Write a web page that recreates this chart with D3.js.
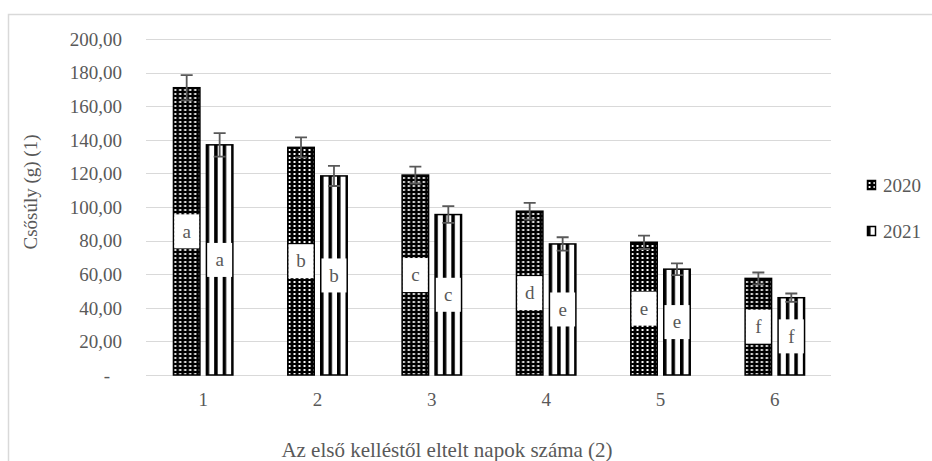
<!DOCTYPE html>
<html>
<head>
<meta charset="utf-8">
<script src="https://cdn.jsdelivr.net/npm/d3@7"></script>
<style>
  body { margin: 0; background: #fff; }
</style>
</head>
<body>
<div id="chart"></div>
<script>
// --- Data ---
const categories = ['1', '2', '3', '4', '5', '6'];
const series = ['2020', '2021'];
const values2020 = [171, 135.5, 119, 97.5, 79, 57.5];
const values2021 = [137, 118.5, 95.5, 78, 63, 46];
const errors2020 = [7.5, 6, 5, 5, 4, 3.5];
const errors2021 = [7, 6, 5, 4, 3.5, 2.5];
const letters2020 = ['a', 'b', 'c', 'd', 'e', 'f'];
const letters2021 = ['a', 'b', 'c', 'e', 'e', 'f'];
const yTicks = [0, 20, 40, 60, 80, 100, 120, 140, 160, 180, 200];

const FONT = '"Liberation Serif", "DejaVu Serif", serif';
const TEXT = '#595959';
const width = 932, height = 461;
const svg = d3.select('#chart').append('svg').attr('width', width).attr('height', height);

// chart border (runs off the right and bottom edges)
svg.append('rect')
    .attr('x', 8.5).attr('y', 14.5).attr('width', width + 10).attr('height', height + 10)
    .attr('fill', 'none').attr('stroke', '#d9d9d9').attr('stroke-width', 1.5);

// --- Patterns ---
const defs = svg.append('defs');
const dots = defs.append('pattern').attr('id', 'p2020')
    .attr('patternUnits', 'userSpaceOnUse').attr('width', 5).attr('height', 4);
dots.append('rect').attr('width', 5).attr('height', 4).attr('fill', '#000');
dots.append('rect').attr('x', 1.5).attr('y', 1).attr('width', 2).attr('height', 2).attr('fill', '#fff');

const stripes = defs.append('pattern').attr('id', 'p2021')
    .attr('patternUnits', 'userSpaceOnUse').attr('width', 8.5).attr('height', 4);
stripes.append('rect').attr('width', 8.5).attr('height', 4).attr('fill', '#fff');
stripes.append('rect').attr('width', 3.5).attr('height', 4).attr('fill', '#000');

// --- Scales ---
const x = d3.scaleBand().domain(categories).range([146, 832]);
const xSub = d3.scaleBand().domain(series).range([0, x.bandwidth()])
    .paddingInner(0.1515).paddingOuter(0.81);
const y = d3.scaleLinear().domain([0, 200]).range([375, 39]);

const locale = d3.formatLocale({ decimal: ',', thousands: ' ', grouping: [3], currency: ['', ''] });
const fmt = locale.format('.2f');

// --- Gridlines & axes ---
svg.append('g').selectAll('line').data(yTicks).join('line')
    .attr('x1', 146).attr('x2', 831)
    .attr('y1', d => Math.round(y(d)) + 0.5).attr('y2', d => Math.round(y(d)) + 0.5)
    .attr('stroke', '#d9d9d9').attr('stroke-width', 1.2);

const yAxis = svg.append('g').attr('transform', 'translate(122,0)')
    .call(d3.axisLeft(y).tickValues(yTicks).tickSize(0).tickPadding(0)
        .tickFormat(d => d === 0 ? '-' : fmt(d)));
yAxis.select('.domain').remove();
yAxis.selectAll('.tick').filter(d => d === 0).select('text').attr('x', -12);

const xAxis = svg.append('g').attr('transform', 'translate(0,375)')
    .call(d3.axisBottom(x).tickSize(0).tickPadding(18));
xAxis.select('.domain').remove();

[yAxis, xAxis].forEach(a => a.attr('font-family', null).attr('font-size', null)
    .selectAll('text').style('font-family', FONT).style('font-size', '19px').attr('fill', TEXT));
yAxis.selectAll('text').attr('dy', '0.33em');

svg.append('text').attr('x', 447).attr('y', 457).attr('text-anchor', 'middle')
    .style('font-family', FONT).style('font-size', '21px').attr('fill', TEXT)
    .text('Az első kelléstől eltelt napok száma (2)');
svg.append('text').attr('transform', 'translate(37,192) rotate(-90)').attr('text-anchor', 'middle')
    .style('font-family', FONT).style('font-size', '19px').attr('fill', TEXT)
    .text('Csősúly (g) (1)');

// --- Bars ---
const rows = categories.map((c, i) => [
    { cat: c, s: '2020', v: values2020[i], e: errors2020[i], l: letters2020[i] },
    { cat: c, s: '2021', v: values2021[i], e: errors2021[i], l: letters2021[i] }
]).flat();

const bar = svg.append('g').selectAll('g').data(rows).join('g')
    .attr('transform', d => `translate(${x(d.cat) + xSub(d.s)},0)`);

bar.append('rect')
    .attr('x', 0.75).attr('width', xSub.bandwidth() - 1.5)
    .attr('y', d => y(d.v)).attr('height', d => y(0) - y(d.v))
    .attr('fill', d => `url(#p${d.s})`).attr('stroke', '#000').attr('stroke-width', 1.5);

// letter labels in white boxes at bar mid-height
bar.append('rect')
    .attr('x', 1.5).attr('width', xSub.bandwidth() - 3)
    .attr('y', d => y(d.v / 2) - 17).attr('height', 34)
    .attr('fill', '#fff');
bar.append('text')
    .attr('x', xSub.bandwidth() / 2).attr('y', d => y(d.v / 2)).attr('dy', '0.33em')
    .attr('text-anchor', 'middle').style('font-family', FONT).style('font-size', '19px')
    .attr('fill', TEXT).text(d => d.l);

// error bars
const cx = xSub.bandwidth() / 2;
bar.append('path')
    .attr('d', d => `M${cx},${y(d.v + d.e)}V${y(d.v - d.e)}M${cx - 6},${y(d.v + d.e)}H${cx + 6}M${cx - 6},${y(d.v - d.e)}H${cx + 6}`)
    .attr('stroke', '#595959').attr('stroke-width', 1.8).attr('fill', 'none');

// --- Legend ---
const legend = svg.append('g').selectAll('g').data(series).join('g')
    .attr('transform', (d, i) => `translate(867,${185 + i * 46})`);
legend.append('rect').attr('x', 0.5).attr('y', -4.5).attr('width', 8).attr('height', 9)
    .attr('fill', d => `url(#p${d})`).attr('stroke', '#000').attr('stroke-width', 1.5);
legend.append('text').attr('x', 16).attr('dy', '0.35em')
    .style('font-family', FONT).style('font-size', '19px').attr('fill', TEXT).text(d => d);
</script>
</body>
</html>
